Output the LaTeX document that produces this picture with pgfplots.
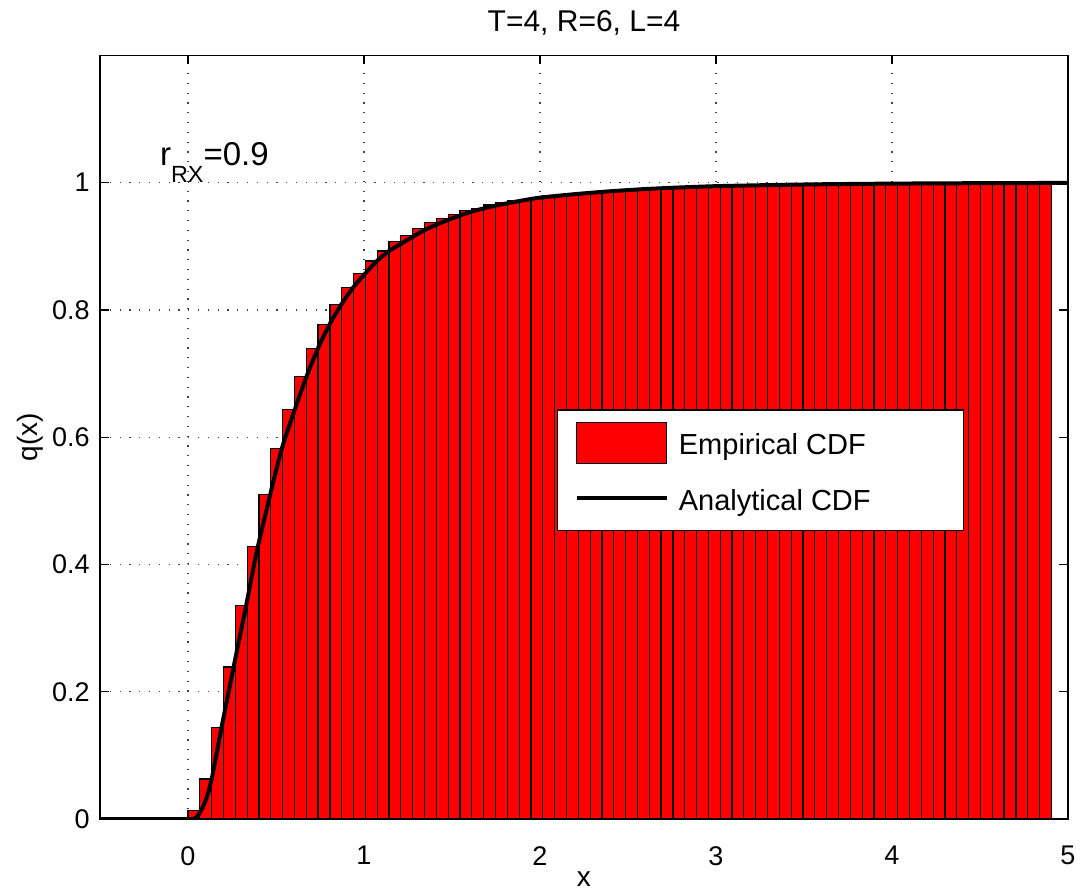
\documentclass[border=0pt]{standalone}
\usepackage{fontspec}
\setmainfont{Liberation Sans}
\usepackage{pgfplots}
\pgfplotsset{compat=1.18}
\begin{document}
\begin{tikzpicture}
\path[use as bounding box] (-50pt,-37.5pt) rectangle (490.5pt,409.5pt);
\begin{axis}[
  at={(0pt,0pt)}, anchor=south west,
  scale only axis, width=484pt, height=381.8pt,
  xmin=-0.5, xmax=5, ymin=0, ymax=1.2,
  xtick={0,1,2,3,4,5}, ytick={0,0.2,0.4,0.6,0.8,1},
  xticklabels={0,1,2,3,4,5}, yticklabels={0,0.2,0.4,0.6,0.8,1},
  /pgf/number format/assume math mode=true,
  xticklabel style={font=\fontsize{13.5}{16}\selectfont, anchor=north, inner xsep=0pt, inner ysep=13.5pt},
  yticklabel style={font=\fontsize{13.5}{16}\selectfont, anchor=east, inner ysep=0pt, inner xsep=5pt},
  tick align=inside, major tick length=4.5pt,
  tick style={black, line width=0.6pt},
  axis line style={black, line width=0.6pt},
  grid=major,
  grid style={black!75, line width=0.6pt, dash pattern=on 0.6pt off 4.3pt},
  xlabel={x},
  xlabel style={font=\fontsize{14}{16}\selectfont, at={(axis description cs:0.5,0)}, anchor=base, yshift=-33.5pt},
  ylabel={q(x)},
  ylabel style={font=\fontsize{14}{16}\selectfont, at={(axis description cs:-0.0723,0.5)}, anchor=center},
  title={T=4, R=6, L=4},
  title style={font=\fontsize{15}{18}\selectfont, at={(axis description cs:0.5,1)}, anchor=base, yshift=5.85pt},
  legend style={at={(0.4718,0.5365)}, anchor=north west, draw=black, line width=0.6pt,
    fill=white, font=\fontsize{14.5}{17}\selectfont, inner xsep=8.65pt, inner ysep=5.85pt,
    row sep=7pt, column sep=5.15pt, nodes={inner sep=0pt}},
  legend cell align=left,
]
\addplot[ybar interval, fill=red, draw=black, line width=0.6pt,
  legend image code/.code={\draw[fill=red, draw=black, line width=0.6pt] (0pt,-8.85pt) rectangle (45pt,11.65pt);}]
coordinates {
(0,0.013) (0.0672,0.063) (0.1344,0.1435) (0.2016,0.239) (0.2688,0.336)
(0.336,0.428) (0.4032,0.510) (0.4704,0.582) (0.5376,0.644) (0.6048,0.695)
(0.672,0.740) (0.7392,0.777) (0.8064,0.809) (0.8736,0.835) (0.9408,0.857)
(1.008,0.877) (1.0752,0.8926) (1.1424,0.907) (1.2096,0.917) (1.2768,0.928)
(1.344,0.937) (1.4112,0.944) (1.4784,0.950) (1.5456,0.956) (1.6128,0.960)
(1.68,0.965) (1.7472,0.9686) (1.8144,0.972) (1.8816,0.974) (1.9488,0.977)
(2.016,0.9791) (2.0832,0.9810) (2.1504,0.9827) (2.2176,0.9843) (2.2848,0.9857)
(2.352,0.9870) (2.4192,0.9882) (2.4864,0.9892) (2.5536,0.9902) (2.6208,0.9911)
(2.688,0.9919) (2.7552,0.9926) (2.8224,0.9933) (2.8896,0.9939) (2.9568,0.9945)
(3.024,0.9950) (3.0912,0.9954) (3.1584,0.9958) (3.2256,0.9962) (3.2928,0.9966)
(3.36,0.9969) (3.4272,0.9972) (3.4944,0.9974) (3.5616,0.9977) (3.6288,0.9979)
(3.696,0.9981) (3.7632,0.9983) (3.8304,0.9984) (3.8976,0.9986) (3.9648,0.9987)
(4.032,0.9988) (4.0992,0.9989) (4.1664,0.9990) (4.2336,0.9991) (4.3008,0.9992)
(4.368,0.9993) (4.4352,0.9994) (4.5024,0.9994) (4.5696,0.9995) (4.6368,0.9995)
(4.704,0.9996) (4.7712,0.9996) (4.8384,0.9998) (4.9056,0.9998)
};
\addlegendentry{\makebox[133.7pt][l]{Empirical CDF}}
\addplot[black, line width=2pt, smooth, tension=0.4,
  legend image code/.code={\path[draw=none, fill=none] (0pt,-8.85pt) rectangle (45pt,11.65pt); \draw[black, line width=2pt] (0pt,1.4pt) -- (45pt,1.4pt);}]
coordinates {
(-0.5,0) (0,0) (0.03,0) (0.05,0.003) (0.08,0.016) (0.11,0.037) (0.14,0.07)
(0.19,0.143) (0.26,0.240) (0.33,0.335) (0.389,0.418) (0.464,0.5065) (0.531,0.580)
(0.606,0.643) (0.673,0.695) (0.739,0.740) (0.805,0.7775) (0.872,0.809)
(0.9375,0.835) (1.008,0.8576) (1.074,0.877) (1.142,0.8926) (1.2085,0.9036)
(1.345,0.9257) (1.477,0.9414) (1.61,0.9544) (1.7466,0.9639) (1.88,0.971)
(1.998,0.9764) (2.2,0.982) (2.4,0.9865) (2.6,0.990) (2.8,0.9925) (3.0,0.9945)
(3.3,0.9962) (3.6,0.9975) (4.0,0.9985) (4.5,0.9992) (5.0,0.9996)
};
\addlegendentry{\makebox[133.7pt][l]{Analytical CDF}}
\node[anchor=base west, inner sep=0pt] at (axis cs:-0.161,1.0267)
  {\fontsize{16.5}{18}\selectfont r\raisebox{-8.5pt}{\fontsize{11.7}{13}\selectfont RX}=0.9};
\end{axis}
\end{tikzpicture}
\end{document}
